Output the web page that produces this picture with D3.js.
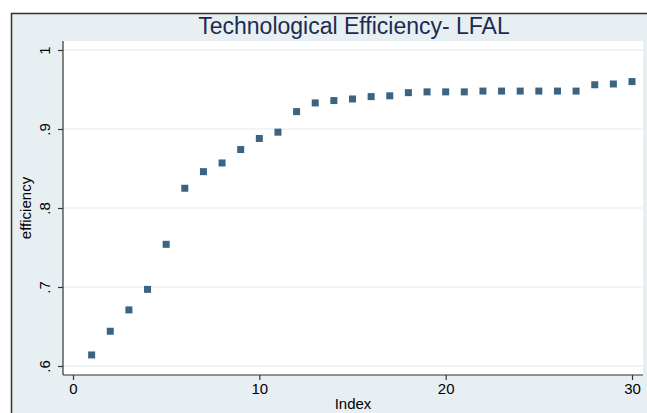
<!DOCTYPE html>
<html>
<head>
<meta charset="utf-8">
<script src="https://cdn.jsdelivr.net/npm/d3@7"></script>
<style>
  body { margin: 0; background: #fff; }
  text { font-family: "Liberation Sans", Arial, sans-serif; }
</style>
</head>
<body>
<div id="chart"></div>
<script>
// efficiency scores by index
const indexValues = [1, 2, 3, 4, 5, 6, 7, 8, 9, 10, 11, 12, 13, 14, 15,
    16, 17, 18, 19, 20, 21, 22, 23, 24, 25, 26, 27, 28, 29, 30];
const efficiency = [0.614, 0.644, 0.671, 0.697, 0.754, 0.825, 0.846, 0.857, 0.874, 0.888,
    0.896, 0.922, 0.933, 0.936, 0.938, 0.941, 0.942, 0.946, 0.947, 0.947,
    0.947, 0.948, 0.948, 0.948, 0.948, 0.948, 0.948, 0.956, 0.957, 0.960];
const xTicks = [0, 10, 20, 30];
const yTicks = [0.6, 0.7, 0.8, 0.9, 1];
const yTickLabels = ['.6', '.7', '.8', '.9', '1'];
const title = 'Technological Efficiency- LFAL';

const W = 647, H = 413;

const svg = d3.select('#chart').append('svg')
    .attr('width', W)
    .attr('height', H);

// outer graph region
svg.append('rect')
    .attr('x', 11.5).attr('y', 13.5)
    .attr('width', W).attr('height', H)
    .attr('fill', '#e8eff2')
    .attr('stroke', '#333')
    .attr('stroke-width', 1.5);

const plot = {left: 63, right: 643, top: 41, bottom: 375};

svg.append('rect')
    .attr('x', plot.left).attr('y', plot.top)
    .attr('width', plot.right - plot.left).attr('height', plot.bottom - plot.top)
    .attr('fill', '#fff');

const x = d3.scaleLinear().domain([0, 30]).range([73, 632]);
const y = d3.scaleLinear().domain([0.6, 1]).range([366, 50]);

// gridlines
svg.append('g')
    .selectAll('line')
    .data(yTicks)
    .join('line')
    .attr('x1', plot.left).attr('x2', plot.right)
    .attr('y1', d => y(d)).attr('y2', d => y(d))
    .attr('stroke', '#eaf2f3')
    .attr('stroke-width', 1.5);

const yAxis = d3.axisLeft(y)
    .tickValues(yTicks)
    .tickFormat((d, i) => yTickLabels[i])
    .tickSize(5)
    .tickSizeOuter(0);

const gy = svg.append('g')
    .attr('transform', 'translate(' + plot.left + ',0)')
    .call(yAxis);
gy.select('.domain').attr('d', 'M0,' + plot.top + 'V' + plot.bottom);
gy.selectAll('text')
    .attr('transform', 'translate(-13,0) rotate(-90)')
    .attr('x', 0).attr('y', 0).attr('dy', 0)
    .attr('text-anchor', 'middle')
    .style('font-size', '15px')
    .attr('fill', '#000');

const xAxis = d3.axisBottom(x)
    .tickValues(xTicks)
    .tickSize(5)
    .tickSizeOuter(0);

const gx = svg.append('g')
    .attr('transform', 'translate(0,' + plot.bottom + ')')
    .call(xAxis);
gx.select('.domain').attr('d', 'M' + plot.left + ',0H' + plot.right);
gx.selectAll('text')
    .attr('y', 8)
    .style('font-size', '15px')
    .attr('fill', '#000');

svg.selectAll('.domain, .tick line')
    .attr('stroke', '#333')
    .attr('stroke-width', 1.2);

// axis titles
svg.append('text')
    .attr('transform', 'translate(31,' + (plot.top + plot.bottom) / 2 + ') rotate(-90)')
    .attr('text-anchor', 'middle')
    .style('font-size', '15px')
    .text('efficiency');

svg.append('text')
    .attr('x', (plot.left + plot.right) / 2)
    .attr('y', 409)
    .attr('text-anchor', 'middle')
    .style('font-size', '15px')
    .text('Index');

svg.append('text')
    .attr('x', 354)
    .attr('y', 34)
    .attr('text-anchor', 'middle')
    .style('font-size', '23px')
    .attr('fill', '#1c2b52')
    .text(title);

// markers
const m = 7;
svg.append('g')
    .selectAll('rect')
    .data(indexValues)
    .join('rect')
    .attr('x', (d, i) => x(d) - m / 2)
    .attr('y', (d, i) => y(efficiency[i]) - m / 2)
    .attr('width', m).attr('height', m)
    .attr('fill', '#3a6482');
</script>
</body>
</html>
